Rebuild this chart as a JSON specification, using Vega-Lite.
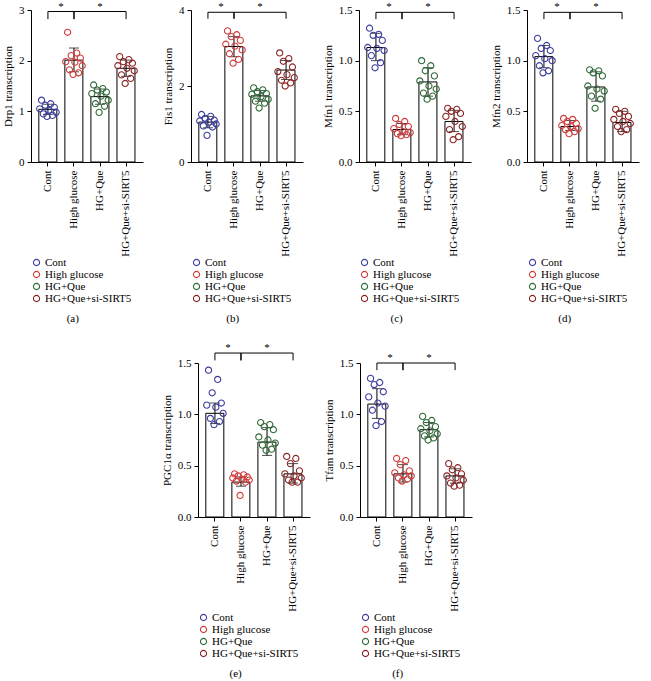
{
"$schema": "https://vega.github.io/schema/vega-lite/v6.json",
"background": "white",
"padding": {"left": 2, "top": 0, "right": 2, "bottom": 1},
"datasets": {
"sum": [
{"p":"a","g":"Cont","m":1.04,"lo":0.94,"hi":1.14},
{"p":"a","g":"High glucose","m":2.01,"lo":1.78,"hi":2.25},
{"p":"a","g":"HG+Que","m":1.29,"lo":1.14,"hi":1.44},
{"p":"a","g":"HG+Que+si-SIRT5","m":1.85,"lo":1.69,"hi":2.01},
{"p":"b","g":"Cont","m":1.05,"lo":0.9,"hi":1.2},
{"p":"b","g":"High glucose","m":3.04,"lo":2.77,"hi":3.3},
{"p":"b","g":"HG+Que","m":1.74,"lo":1.6,"hi":1.88},
{"p":"b","g":"HG+Que+si-SIRT5","m":2.42,"lo":2.17,"hi":2.67},
{"p":"c","g":"Cont","m":1.13,"lo":1.0,"hi":1.27},
{"p":"c","g":"High glucose","m":0.32,"lo":0.27,"hi":0.38},
{"p":"c","g":"HG+Que","m":0.79,"lo":0.65,"hi":0.93},
{"p":"c","g":"HG+Que+si-SIRT5","m":0.4,"lo":0.3,"hi":0.51},
{"p":"d","g":"Cont","m":1.04,"lo":0.93,"hi":1.15},
{"p":"d","g":"High glucose","m":0.35,"lo":0.31,"hi":0.41},
{"p":"d","g":"HG+Que","m":0.74,"lo":0.6,"hi":0.89},
{"p":"d","g":"HG+Que+si-SIRT5","m":0.39,"lo":0.3,"hi":0.5},
{"p":"e","g":"Cont","m":1.01,"lo":0.91,"hi":1.11},
{"p":"e","g":"High glucose","m":0.34,"lo":0.3,"hi":0.39},
{"p":"e","g":"HG+Que","m":0.73,"lo":0.6,"hi":0.87},
{"p":"e","g":"HG+Que+si-SIRT5","m":0.42,"lo":0.33,"hi":0.52},
{"p":"f","g":"Cont","m":1.1,"lo":0.96,"hi":1.25},
{"p":"f","g":"High glucose","m":0.42,"lo":0.34,"hi":0.51},
{"p":"f","g":"HG+Que","m":0.85,"lo":0.78,"hi":0.92},
{"p":"f","g":"HG+Que+si-SIRT5","m":0.4,"lo":0.33,"hi":0.47}
],
"br": [
{"p":"a","k":1,"a":"Cont","b":"High glucose","y":2.97,"yl":2.82},
{"p":"a","k":2,"a":"High glucose","b":"HG+Que+si-SIRT5","y":2.97,"yl":2.82},
{"p":"b","k":1,"a":"Cont","b":"High glucose","y":3.94,"yl":3.77},
{"p":"b","k":2,"a":"High glucose","b":"HG+Que+si-SIRT5","y":3.94,"yl":3.77},
{"p":"c","k":1,"a":"Cont","b":"High glucose","y":1.477,"yl":1.41},
{"p":"c","k":2,"a":"High glucose","b":"HG+Que+si-SIRT5","y":1.477,"yl":1.41},
{"p":"d","k":1,"a":"Cont","b":"High glucose","y":1.477,"yl":1.41},
{"p":"d","k":2,"a":"High glucose","b":"HG+Que+si-SIRT5","y":1.477,"yl":1.41},
{"p":"e","k":1,"a":"Cont","b":"High glucose","y":1.597,"yl":1.525},
{"p":"e","k":2,"a":"High glucose","b":"HG+Que+si-SIRT5","y":1.597,"yl":1.525},
{"p":"f","k":1,"a":"Cont","b":"High glucose","y":1.5,"yl":1.43},
{"p":"f","k":2,"a":"High glucose","b":"HG+Que+si-SIRT5","y":1.5,"yl":1.43}
],
"pts": [
{"p":"a","g":"Cont","r":1,"v":1.05},{"p":"a","g":"Cont","r":2,"v":1.22},{"p":"a","g":"Cont","r":3,"v":0.95},{"p":"a","g":"Cont","r":4,"v":1.12},{"p":"a","g":"Cont","r":5,"v":0.9},{"p":"a","g":"Cont","r":6,"v":1.02},{"p":"a","g":"Cont","r":7,"v":1.15},{"p":"a","g":"Cont","r":8,"v":0.92},{"p":"a","g":"Cont","r":9,"v":1.08},{"p":"a","g":"Cont","r":10,"v":0.98},
{"p":"a","g":"High glucose","r":1,"v":1.98},{"p":"a","g":"High glucose","r":2,"v":2.56},{"p":"a","g":"High glucose","r":3,"v":1.82},{"p":"a","g":"High glucose","r":4,"v":2.1},{"p":"a","g":"High glucose","r":5,"v":1.73},{"p":"a","g":"High glucose","r":6,"v":1.97},{"p":"a","g":"High glucose","r":7,"v":2.15},{"p":"a","g":"High glucose","r":8,"v":1.76},{"p":"a","g":"High glucose","r":9,"v":2.05},{"p":"a","g":"High glucose","r":10,"v":1.9},
{"p":"a","g":"HG+Que","r":1,"v":1.35},{"p":"a","g":"HG+Que","r":2,"v":1.52},{"p":"a","g":"HG+Que","r":3,"v":1.15},{"p":"a","g":"HG+Que","r":4,"v":1.42},{"p":"a","g":"HG+Que","r":5,"v":0.98},{"p":"a","g":"HG+Que","r":6,"v":1.3},{"p":"a","g":"HG+Que","r":7,"v":1.45},{"p":"a","g":"HG+Que","r":8,"v":1.1},{"p":"a","g":"HG+Que","r":9,"v":1.38},{"p":"a","g":"HG+Que","r":10,"v":1.22},
{"p":"a","g":"HG+Que+si-SIRT5","r":1,"v":1.9},{"p":"a","g":"HG+Que+si-SIRT5","r":2,"v":2.08},{"p":"a","g":"HG+Que+si-SIRT5","r":3,"v":1.72},{"p":"a","g":"HG+Que+si-SIRT5","r":4,"v":1.98},{"p":"a","g":"HG+Que+si-SIRT5","r":5,"v":1.55},{"p":"a","g":"HG+Que+si-SIRT5","r":6,"v":1.85},{"p":"a","g":"HG+Que+si-SIRT5","r":7,"v":2.02},{"p":"a","g":"HG+Que+si-SIRT5","r":8,"v":1.65},{"p":"a","g":"HG+Que+si-SIRT5","r":9,"v":1.95},{"p":"a","g":"HG+Que+si-SIRT5","r":10,"v":1.8},
{"p":"b","g":"Cont","r":1,"v":1.08},{"p":"b","g":"Cont","r":2,"v":1.25},{"p":"b","g":"Cont","r":3,"v":0.95},{"p":"b","g":"Cont","r":4,"v":1.15},{"p":"b","g":"Cont","r":5,"v":0.7},{"p":"b","g":"Cont","r":6,"v":1.05},{"p":"b","g":"Cont","r":7,"v":1.2},{"p":"b","g":"Cont","r":8,"v":0.92},{"p":"b","g":"Cont","r":9,"v":1.1},{"p":"b","g":"Cont","r":10,"v":1.0},
{"p":"b","g":"High glucose","r":1,"v":3.1},{"p":"b","g":"High glucose","r":2,"v":3.45},{"p":"b","g":"High glucose","r":3,"v":2.85},{"p":"b","g":"High glucose","r":4,"v":3.3},{"p":"b","g":"High glucose","r":5,"v":2.6},{"p":"b","g":"High glucose","r":6,"v":3.05},{"p":"b","g":"High glucose","r":7,"v":3.35},{"p":"b","g":"High glucose","r":8,"v":2.7},{"p":"b","g":"High glucose","r":9,"v":3.2},{"p":"b","g":"High glucose","r":10,"v":2.95},
{"p":"b","g":"HG+Que","r":1,"v":1.78},{"p":"b","g":"HG+Que","r":2,"v":1.95},{"p":"b","g":"HG+Que","r":3,"v":1.6},{"p":"b","g":"HG+Que","r":4,"v":1.85},{"p":"b","g":"HG+Que","r":5,"v":1.42},{"p":"b","g":"HG+Que","r":6,"v":1.72},{"p":"b","g":"HG+Que","r":7,"v":1.9},{"p":"b","g":"HG+Que","r":8,"v":1.55},{"p":"b","g":"HG+Que","r":9,"v":1.8},{"p":"b","g":"HG+Que","r":10,"v":1.65},
{"p":"b","g":"HG+Que+si-SIRT5","r":1,"v":2.38},{"p":"b","g":"HG+Que+si-SIRT5","r":2,"v":2.87},{"p":"b","g":"HG+Que+si-SIRT5","r":3,"v":2.15},{"p":"b","g":"HG+Que+si-SIRT5","r":4,"v":2.65},{"p":"b","g":"HG+Que+si-SIRT5","r":5,"v":2.0},{"p":"b","g":"HG+Que+si-SIRT5","r":6,"v":2.3},{"p":"b","g":"HG+Que+si-SIRT5","r":7,"v":2.72},{"p":"b","g":"HG+Que+si-SIRT5","r":8,"v":2.08},{"p":"b","g":"HG+Que+si-SIRT5","r":9,"v":2.5},{"p":"b","g":"HG+Que+si-SIRT5","r":10,"v":2.22},
{"p":"c","g":"Cont","r":1,"v":1.13},{"p":"c","g":"Cont","r":2,"v":1.32},{"p":"c","g":"Cont","r":3,"v":1.05},{"p":"c","g":"Cont","r":4,"v":1.25},{"p":"c","g":"Cont","r":5,"v":0.93},{"p":"c","g":"Cont","r":6,"v":1.12},{"p":"c","g":"Cont","r":7,"v":1.26},{"p":"c","g":"Cont","r":8,"v":0.98},{"p":"c","g":"Cont","r":9,"v":1.2},{"p":"c","g":"Cont","r":10,"v":1.1},
{"p":"c","g":"High glucose","r":1,"v":0.33},{"p":"c","g":"High glucose","r":2,"v":0.43},{"p":"c","g":"High glucose","r":3,"v":0.28},{"p":"c","g":"High glucose","r":4,"v":0.37},{"p":"c","g":"High glucose","r":5,"v":0.26},{"p":"c","g":"High glucose","r":6,"v":0.3},{"p":"c","g":"High glucose","r":7,"v":0.4},{"p":"c","g":"High glucose","r":8,"v":0.27},{"p":"c","g":"High glucose","r":9,"v":0.35},{"p":"c","g":"High glucose","r":10,"v":0.29},
{"p":"c","g":"HG+Que","r":1,"v":0.8},{"p":"c","g":"HG+Que","r":2,"v":1.0},{"p":"c","g":"HG+Que","r":3,"v":0.68},{"p":"c","g":"HG+Que","r":4,"v":0.9},{"p":"c","g":"HG+Que","r":5,"v":0.62},{"p":"c","g":"HG+Que","r":6,"v":0.75},{"p":"c","g":"HG+Que","r":7,"v":0.95},{"p":"c","g":"HG+Que","r":8,"v":0.65},{"p":"c","g":"HG+Que","r":9,"v":0.85},{"p":"c","g":"HG+Que","r":10,"v":0.72},
{"p":"c","g":"HG+Que+si-SIRT5","r":1,"v":0.45},{"p":"c","g":"HG+Que+si-SIRT5","r":2,"v":0.53},{"p":"c","g":"HG+Que+si-SIRT5","r":3,"v":0.32},{"p":"c","g":"HG+Que+si-SIRT5","r":4,"v":0.5},{"p":"c","g":"HG+Que+si-SIRT5","r":5,"v":0.22},{"p":"c","g":"HG+Que+si-SIRT5","r":6,"v":0.4},{"p":"c","g":"HG+Que+si-SIRT5","r":7,"v":0.52},{"p":"c","g":"HG+Que+si-SIRT5","r":8,"v":0.25},{"p":"c","g":"HG+Que+si-SIRT5","r":9,"v":0.48},{"p":"c","g":"HG+Que+si-SIRT5","r":10,"v":0.35},
{"p":"d","g":"Cont","r":1,"v":1.05},{"p":"d","g":"Cont","r":2,"v":1.22},{"p":"d","g":"Cont","r":3,"v":0.95},{"p":"d","g":"Cont","r":4,"v":1.12},{"p":"d","g":"Cont","r":5,"v":0.88},{"p":"d","g":"Cont","r":6,"v":1.02},{"p":"d","g":"Cont","r":7,"v":1.15},{"p":"d","g":"Cont","r":8,"v":0.9},{"p":"d","g":"Cont","r":9,"v":1.1},{"p":"d","g":"Cont","r":10,"v":1.0},
{"p":"d","g":"High glucose","r":1,"v":0.36},{"p":"d","g":"High glucose","r":2,"v":0.43},{"p":"d","g":"High glucose","r":3,"v":0.32},{"p":"d","g":"High glucose","r":4,"v":0.4},{"p":"d","g":"High glucose","r":5,"v":0.28},{"p":"d","g":"High glucose","r":6,"v":0.35},{"p":"d","g":"High glucose","r":7,"v":0.42},{"p":"d","g":"High glucose","r":8,"v":0.3},{"p":"d","g":"High glucose","r":9,"v":0.38},{"p":"d","g":"High glucose","r":10,"v":0.33},
{"p":"d","g":"HG+Que","r":1,"v":0.75},{"p":"d","g":"HG+Que","r":2,"v":0.91},{"p":"d","g":"HG+Que","r":3,"v":0.65},{"p":"d","g":"HG+Que","r":4,"v":0.88},{"p":"d","g":"HG+Que","r":5,"v":0.53},{"p":"d","g":"HG+Que","r":6,"v":0.72},{"p":"d","g":"HG+Que","r":7,"v":0.9},{"p":"d","g":"HG+Que","r":8,"v":0.62},{"p":"d","g":"HG+Que","r":9,"v":0.85},{"p":"d","g":"HG+Que","r":10,"v":0.7},
{"p":"d","g":"HG+Que+si-SIRT5","r":1,"v":0.42},{"p":"d","g":"HG+Que+si-SIRT5","r":2,"v":0.52},{"p":"d","g":"HG+Que+si-SIRT5","r":3,"v":0.35},{"p":"d","g":"HG+Que+si-SIRT5","r":4,"v":0.48},{"p":"d","g":"HG+Que+si-SIRT5","r":5,"v":0.3},{"p":"d","g":"HG+Que+si-SIRT5","r":6,"v":0.4},{"p":"d","g":"HG+Que+si-SIRT5","r":7,"v":0.5},{"p":"d","g":"HG+Que+si-SIRT5","r":8,"v":0.32},{"p":"d","g":"HG+Que+si-SIRT5","r":9,"v":0.45},{"p":"d","g":"HG+Que+si-SIRT5","r":10,"v":0.38},
{"p":"e","g":"Cont","r":1,"v":1.09},{"p":"e","g":"Cont","r":2,"v":1.43},{"p":"e","g":"Cont","r":3,"v":0.96},{"p":"e","g":"Cont","r":4,"v":1.21},{"p":"e","g":"Cont","r":5,"v":0.9},{"p":"e","g":"Cont","r":6,"v":1.07},{"p":"e","g":"Cont","r":7,"v":1.34},{"p":"e","g":"Cont","r":8,"v":0.93},{"p":"e","g":"Cont","r":9,"v":1.11},{"p":"e","g":"Cont","r":10,"v":1.01},
{"p":"e","g":"High glucose","r":1,"v":0.38},{"p":"e","g":"High glucose","r":2,"v":0.42},{"p":"e","g":"High glucose","r":3,"v":0.35},{"p":"e","g":"High glucose","r":4,"v":0.4},{"p":"e","g":"High glucose","r":5,"v":0.21},{"p":"e","g":"High glucose","r":6,"v":0.37},{"p":"e","g":"High glucose","r":7,"v":0.41},{"p":"e","g":"High glucose","r":8,"v":0.34},{"p":"e","g":"High glucose","r":9,"v":0.39},{"p":"e","g":"High glucose","r":10,"v":0.36},
{"p":"e","g":"HG+Que","r":1,"v":0.78},{"p":"e","g":"HG+Que","r":2,"v":0.92},{"p":"e","g":"HG+Que","r":3,"v":0.7},{"p":"e","g":"HG+Que","r":4,"v":0.88},{"p":"e","g":"HG+Que","r":5,"v":0.65},{"p":"e","g":"HG+Que","r":6,"v":0.75},{"p":"e","g":"HG+Que","r":7,"v":0.9},{"p":"e","g":"HG+Que","r":8,"v":0.66},{"p":"e","g":"HG+Que","r":9,"v":0.85},{"p":"e","g":"HG+Que","r":10,"v":0.72},
{"p":"e","g":"HG+Que+si-SIRT5","r":1,"v":0.42},{"p":"e","g":"HG+Que+si-SIRT5","r":2,"v":0.59},{"p":"e","g":"HG+Que+si-SIRT5","r":3,"v":0.36},{"p":"e","g":"HG+Que+si-SIRT5","r":4,"v":0.52},{"p":"e","g":"HG+Que+si-SIRT5","r":5,"v":0.34},{"p":"e","g":"HG+Que+si-SIRT5","r":6,"v":0.4},{"p":"e","g":"HG+Que+si-SIRT5","r":7,"v":0.57},{"p":"e","g":"HG+Que+si-SIRT5","r":8,"v":0.34},{"p":"e","g":"HG+Que+si-SIRT5","r":9,"v":0.45},{"p":"e","g":"HG+Que+si-SIRT5","r":10,"v":0.38},
{"p":"f","g":"Cont","r":1,"v":1.17},{"p":"f","g":"Cont","r":2,"v":1.35},{"p":"f","g":"Cont","r":3,"v":1.04},{"p":"f","g":"Cont","r":4,"v":1.29},{"p":"f","g":"Cont","r":5,"v":0.89},{"p":"f","g":"Cont","r":6,"v":1.11},{"p":"f","g":"Cont","r":7,"v":1.31},{"p":"f","g":"Cont","r":8,"v":0.93},{"p":"f","g":"Cont","r":9,"v":1.22},{"p":"f","g":"Cont","r":10,"v":1.08},
{"p":"f","g":"High glucose","r":1,"v":0.43},{"p":"f","g":"High glucose","r":2,"v":0.57},{"p":"f","g":"High glucose","r":3,"v":0.38},{"p":"f","g":"High glucose","r":4,"v":0.51},{"p":"f","g":"High glucose","r":5,"v":0.35},{"p":"f","g":"High glucose","r":6,"v":0.41},{"p":"f","g":"High glucose","r":7,"v":0.55},{"p":"f","g":"High glucose","r":8,"v":0.37},{"p":"f","g":"High glucose","r":9,"v":0.45},{"p":"f","g":"High glucose","r":10,"v":0.4},
{"p":"f","g":"HG+Que","r":1,"v":0.86},{"p":"f","g":"HG+Que","r":2,"v":0.98},{"p":"f","g":"HG+Que","r":3,"v":0.79},{"p":"f","g":"HG+Que","r":4,"v":0.92},{"p":"f","g":"HG+Que","r":5,"v":0.75},{"p":"f","g":"HG+Que","r":6,"v":0.84},{"p":"f","g":"HG+Que","r":7,"v":0.94},{"p":"f","g":"HG+Que","r":8,"v":0.77},{"p":"f","g":"HG+Que","r":9,"v":0.88},{"p":"f","g":"HG+Que","r":10,"v":0.81},
{"p":"f","g":"HG+Que+si-SIRT5","r":1,"v":0.4},{"p":"f","g":"HG+Que+si-SIRT5","r":2,"v":0.52},{"p":"f","g":"HG+Que+si-SIRT5","r":3,"v":0.33},{"p":"f","g":"HG+Que+si-SIRT5","r":4,"v":0.46},{"p":"f","g":"HG+Que+si-SIRT5","r":5,"v":0.3},{"p":"f","g":"HG+Que+si-SIRT5","r":6,"v":0.38},{"p":"f","g":"HG+Que+si-SIRT5","r":7,"v":0.48},{"p":"f","g":"HG+Que+si-SIRT5","r":8,"v":0.31},{"p":"f","g":"HG+Que+si-SIRT5","r":9,"v":0.42},{"p":"f","g":"HG+Que+si-SIRT5","r":10,"v":0.36}
]
},
"resolve": {"scale": {"color": "independent"}},
"spacing": 18,
"center": true,
"vconcat": [
{"hconcat": [
{"width":112,"height":152,"title":"(a)",
"encoding":{"x":{"field":"g","type":"nominal","title":null,"scale":{"domain":["Cont","High glucose","HG+Que","HG+Que+si-SIRT5"],"paddingInner":0.3,"paddingOuter":0.3}}},
"layer":[
{"data":{"name":"sum"},"transform":[{"filter":"datum.p=='a'"}],"mark":{"type":"bar","fill":"white","stroke":"black","strokeWidth":1},"encoding":{"y":{"field":"m","type":"quantitative","title":"Drp1 transcription","scale":{"domain":[0,3],"nice":false},"axis":{"values":[0,1,2,3]}}}},
{"data":{"name":"sum"},"transform":[{"filter":"datum.p=='a'"}],"mark":{"type":"errorbar","color":"black","ticks":{"size":10}},"encoding":{"y":{"field":"lo","type":"quantitative","title":"Drp1 transcription","scale":{"domain":[0,3],"nice":false}},"y2":{"field":"hi"}}},
{"data":{"name":"pts"},"transform":[{"filter":"datum.p=='a'"}],"mark":{"type":"point","shape":"circle","filled":false,"size":38,"strokeWidth":1.1,"opacity":1},"encoding":{"xOffset":{"field":"r","type":"nominal"},"y":{"field":"v","type":"quantitative","title":"Drp1 transcription","scale":{"domain":[0,3],"nice":false}},"color":{"field":"g","type":"nominal","scale":{"domain":["Cont","High glucose","HG+Que","HG+Que+si-SIRT5"],"range":["#3d3d9e","#d23c3c","#2e6b36","#8c2424"]},"legend":{"title":null}}}},
{"data":{"name":"br"},"transform":[{"filter":"datum.p=='a'"}],"mark":{"type":"rule","color":"black"},"encoding":{"x":{"field":"a","type":"nominal","title":null,"scale":{"domain":["Cont","High glucose","HG+Que","HG+Que+si-SIRT5"],"paddingInner":0.3,"paddingOuter":0.3}},"x2":{"field":"b"},"y":{"field":"y","type":"quantitative","title":"Drp1 transcription","scale":{"domain":[0,3],"nice":false}}}},
{"data":{"name":"br"},"transform":[{"filter":"datum.p=='a'"}],"mark":{"type":"rule","color":"black"},"encoding":{"x":{"field":"a","type":"nominal","title":null,"scale":{"domain":["Cont","High glucose","HG+Que","HG+Que+si-SIRT5"],"paddingInner":0.3,"paddingOuter":0.3}},"y":{"field":"y","type":"quantitative","title":"Drp1 transcription","scale":{"domain":[0,3],"nice":false}},"y2":{"field":"yl"}}},
{"data":{"name":"br"},"transform":[{"filter":"datum.p=='a'"}],"mark":{"type":"rule","color":"black"},"encoding":{"x":{"field":"b","type":"nominal","title":null,"scale":{"domain":["Cont","High glucose","HG+Que","HG+Que+si-SIRT5"],"paddingInner":0.3,"paddingOuter":0.3}},"y":{"field":"y","type":"quantitative","title":"Drp1 transcription","scale":{"domain":[0,3],"nice":false}},"y2":{"field":"yl"}}},
{"data":{"name":"br"},"transform":[{"filter":"datum.p=='a' && datum.k==1"}],"mark":{"type":"text","text":"*","dx":-13,"baseline":"bottom","color":"black"},"encoding":{"x":{"field":"b","type":"nominal","title":null,"scale":{"domain":["Cont","High glucose","HG+Que","HG+Que+si-SIRT5"],"paddingInner":0.3,"paddingOuter":0.3}},"y":{"field":"y","type":"quantitative","title":"Drp1 transcription","scale":{"domain":[0,3],"nice":false}}}},
{"data":{"name":"br"},"transform":[{"filter":"datum.p=='a' && datum.k==2"}],"mark":{"type":"text","text":"*","dx":-26,"baseline":"bottom","color":"black"},"encoding":{"x":{"field":"b","type":"nominal","title":null,"scale":{"domain":["Cont","High glucose","HG+Que","HG+Que+si-SIRT5"],"paddingInner":0.3,"paddingOuter":0.3}},"y":{"field":"y","type":"quantitative","title":"Drp1 transcription","scale":{"domain":[0,3],"nice":false}}}}
]},
{"width":112,"height":152,"title":"(b)",
"encoding":{"x":{"field":"g","type":"nominal","title":null,"scale":{"domain":["Cont","High glucose","HG+Que","HG+Que+si-SIRT5"],"paddingInner":0.3,"paddingOuter":0.3}}},
"layer":[
{"data":{"name":"sum"},"transform":[{"filter":"datum.p=='b'"}],"mark":{"type":"bar","fill":"white","stroke":"black","strokeWidth":1},"encoding":{"y":{"field":"m","type":"quantitative","title":"Fis1 transcription","scale":{"domain":[0,4],"nice":false},"axis":{"values":[0,1,2,3,4]}}}},
{"data":{"name":"sum"},"transform":[{"filter":"datum.p=='b'"}],"mark":{"type":"errorbar","color":"black","ticks":{"size":10}},"encoding":{"y":{"field":"lo","type":"quantitative","title":"Fis1 transcription","scale":{"domain":[0,4],"nice":false}},"y2":{"field":"hi"}}},
{"data":{"name":"pts"},"transform":[{"filter":"datum.p=='b'"}],"mark":{"type":"point","shape":"circle","filled":false,"size":38,"strokeWidth":1.1,"opacity":1},"encoding":{"xOffset":{"field":"r","type":"nominal"},"y":{"field":"v","type":"quantitative","title":"Fis1 transcription","scale":{"domain":[0,4],"nice":false}},"color":{"field":"g","type":"nominal","scale":{"domain":["Cont","High glucose","HG+Que","HG+Que+si-SIRT5"],"range":["#3d3d9e","#d23c3c","#2e6b36","#8c2424"]},"legend":{"title":null}}}},
{"data":{"name":"br"},"transform":[{"filter":"datum.p=='b'"}],"mark":{"type":"rule","color":"black"},"encoding":{"x":{"field":"a","type":"nominal","title":null,"scale":{"domain":["Cont","High glucose","HG+Que","HG+Que+si-SIRT5"],"paddingInner":0.3,"paddingOuter":0.3}},"x2":{"field":"b"},"y":{"field":"y","type":"quantitative","title":"Fis1 transcription","scale":{"domain":[0,4],"nice":false}}}},
{"data":{"name":"br"},"transform":[{"filter":"datum.p=='b'"}],"mark":{"type":"rule","color":"black"},"encoding":{"x":{"field":"a","type":"nominal","title":null,"scale":{"domain":["Cont","High glucose","HG+Que","HG+Que+si-SIRT5"],"paddingInner":0.3,"paddingOuter":0.3}},"y":{"field":"y","type":"quantitative","title":"Fis1 transcription","scale":{"domain":[0,4],"nice":false}},"y2":{"field":"yl"}}},
{"data":{"name":"br"},"transform":[{"filter":"datum.p=='b'"}],"mark":{"type":"rule","color":"black"},"encoding":{"x":{"field":"b","type":"nominal","title":null,"scale":{"domain":["Cont","High glucose","HG+Que","HG+Que+si-SIRT5"],"paddingInner":0.3,"paddingOuter":0.3}},"y":{"field":"y","type":"quantitative","title":"Fis1 transcription","scale":{"domain":[0,4],"nice":false}},"y2":{"field":"yl"}}},
{"data":{"name":"br"},"transform":[{"filter":"datum.p=='b' && datum.k==1"}],"mark":{"type":"text","text":"*","dx":-13,"baseline":"bottom","color":"black"},"encoding":{"x":{"field":"b","type":"nominal","title":null,"scale":{"domain":["Cont","High glucose","HG+Que","HG+Que+si-SIRT5"],"paddingInner":0.3,"paddingOuter":0.3}},"y":{"field":"y","type":"quantitative","title":"Fis1 transcription","scale":{"domain":[0,4],"nice":false}}}},
{"data":{"name":"br"},"transform":[{"filter":"datum.p=='b' && datum.k==2"}],"mark":{"type":"text","text":"*","dx":-26,"baseline":"bottom","color":"black"},"encoding":{"x":{"field":"b","type":"nominal","title":null,"scale":{"domain":["Cont","High glucose","HG+Que","HG+Que+si-SIRT5"],"paddingInner":0.3,"paddingOuter":0.3}},"y":{"field":"y","type":"quantitative","title":"Fis1 transcription","scale":{"domain":[0,4],"nice":false}}}}
]},
{"width":112,"height":152,"title":"(c)",
"encoding":{"x":{"field":"g","type":"nominal","title":null,"scale":{"domain":["Cont","High glucose","HG+Que","HG+Que+si-SIRT5"],"paddingInner":0.3,"paddingOuter":0.3}}},
"layer":[
{"data":{"name":"sum"},"transform":[{"filter":"datum.p=='c'"}],"mark":{"type":"bar","fill":"white","stroke":"black","strokeWidth":1},"encoding":{"y":{"field":"m","type":"quantitative","title":"Mfn1 transcription","scale":{"domain":[0,1.5],"nice":false},"axis":{"values":[0,0.5,1,1.5],"format":".1f"}}}},
{"data":{"name":"sum"},"transform":[{"filter":"datum.p=='c'"}],"mark":{"type":"errorbar","color":"black","ticks":{"size":10}},"encoding":{"y":{"field":"lo","type":"quantitative","title":"Mfn1 transcription","scale":{"domain":[0,1.5],"nice":false}},"y2":{"field":"hi"}}},
{"data":{"name":"pts"},"transform":[{"filter":"datum.p=='c'"}],"mark":{"type":"point","shape":"circle","filled":false,"size":38,"strokeWidth":1.1,"opacity":1},"encoding":{"xOffset":{"field":"r","type":"nominal"},"y":{"field":"v","type":"quantitative","title":"Mfn1 transcription","scale":{"domain":[0,1.5],"nice":false}},"color":{"field":"g","type":"nominal","scale":{"domain":["Cont","High glucose","HG+Que","HG+Que+si-SIRT5"],"range":["#3d3d9e","#d23c3c","#2e6b36","#8c2424"]},"legend":{"title":null}}}},
{"data":{"name":"br"},"transform":[{"filter":"datum.p=='c'"}],"mark":{"type":"rule","color":"black"},"encoding":{"x":{"field":"a","type":"nominal","title":null,"scale":{"domain":["Cont","High glucose","HG+Que","HG+Que+si-SIRT5"],"paddingInner":0.3,"paddingOuter":0.3}},"x2":{"field":"b"},"y":{"field":"y","type":"quantitative","title":"Mfn1 transcription","scale":{"domain":[0,1.5],"nice":false}}}},
{"data":{"name":"br"},"transform":[{"filter":"datum.p=='c'"}],"mark":{"type":"rule","color":"black"},"encoding":{"x":{"field":"a","type":"nominal","title":null,"scale":{"domain":["Cont","High glucose","HG+Que","HG+Que+si-SIRT5"],"paddingInner":0.3,"paddingOuter":0.3}},"y":{"field":"y","type":"quantitative","title":"Mfn1 transcription","scale":{"domain":[0,1.5],"nice":false}},"y2":{"field":"yl"}}},
{"data":{"name":"br"},"transform":[{"filter":"datum.p=='c'"}],"mark":{"type":"rule","color":"black"},"encoding":{"x":{"field":"b","type":"nominal","title":null,"scale":{"domain":["Cont","High glucose","HG+Que","HG+Que+si-SIRT5"],"paddingInner":0.3,"paddingOuter":0.3}},"y":{"field":"y","type":"quantitative","title":"Mfn1 transcription","scale":{"domain":[0,1.5],"nice":false}},"y2":{"field":"yl"}}},
{"data":{"name":"br"},"transform":[{"filter":"datum.p=='c' && datum.k==1"}],"mark":{"type":"text","text":"*","dx":-13,"baseline":"bottom","color":"black"},"encoding":{"x":{"field":"b","type":"nominal","title":null,"scale":{"domain":["Cont","High glucose","HG+Que","HG+Que+si-SIRT5"],"paddingInner":0.3,"paddingOuter":0.3}},"y":{"field":"y","type":"quantitative","title":"Mfn1 transcription","scale":{"domain":[0,1.5],"nice":false}}}},
{"data":{"name":"br"},"transform":[{"filter":"datum.p=='c' && datum.k==2"}],"mark":{"type":"text","text":"*","dx":-26,"baseline":"bottom","color":"black"},"encoding":{"x":{"field":"b","type":"nominal","title":null,"scale":{"domain":["Cont","High glucose","HG+Que","HG+Que+si-SIRT5"],"paddingInner":0.3,"paddingOuter":0.3}},"y":{"field":"y","type":"quantitative","title":"Mfn1 transcription","scale":{"domain":[0,1.5],"nice":false}}}}
]},
{"width":112,"height":152,"title":"(d)",
"encoding":{"x":{"field":"g","type":"nominal","title":null,"scale":{"domain":["Cont","High glucose","HG+Que","HG+Que+si-SIRT5"],"paddingInner":0.3,"paddingOuter":0.3}}},
"layer":[
{"data":{"name":"sum"},"transform":[{"filter":"datum.p=='d'"}],"mark":{"type":"bar","fill":"white","stroke":"black","strokeWidth":1},"encoding":{"y":{"field":"m","type":"quantitative","title":"Mfn2 transcription","scale":{"domain":[0,1.5],"nice":false},"axis":{"values":[0,0.5,1,1.5],"format":".1f"}}}},
{"data":{"name":"sum"},"transform":[{"filter":"datum.p=='d'"}],"mark":{"type":"errorbar","color":"black","ticks":{"size":10}},"encoding":{"y":{"field":"lo","type":"quantitative","title":"Mfn2 transcription","scale":{"domain":[0,1.5],"nice":false}},"y2":{"field":"hi"}}},
{"data":{"name":"pts"},"transform":[{"filter":"datum.p=='d'"}],"mark":{"type":"point","shape":"circle","filled":false,"size":38,"strokeWidth":1.1,"opacity":1},"encoding":{"xOffset":{"field":"r","type":"nominal"},"y":{"field":"v","type":"quantitative","title":"Mfn2 transcription","scale":{"domain":[0,1.5],"nice":false}},"color":{"field":"g","type":"nominal","scale":{"domain":["Cont","High glucose","HG+Que","HG+Que+si-SIRT5"],"range":["#3d3d9e","#d23c3c","#2e6b36","#8c2424"]},"legend":{"title":null}}}},
{"data":{"name":"br"},"transform":[{"filter":"datum.p=='d'"}],"mark":{"type":"rule","color":"black"},"encoding":{"x":{"field":"a","type":"nominal","title":null,"scale":{"domain":["Cont","High glucose","HG+Que","HG+Que+si-SIRT5"],"paddingInner":0.3,"paddingOuter":0.3}},"x2":{"field":"b"},"y":{"field":"y","type":"quantitative","title":"Mfn2 transcription","scale":{"domain":[0,1.5],"nice":false}}}},
{"data":{"name":"br"},"transform":[{"filter":"datum.p=='d'"}],"mark":{"type":"rule","color":"black"},"encoding":{"x":{"field":"a","type":"nominal","title":null,"scale":{"domain":["Cont","High glucose","HG+Que","HG+Que+si-SIRT5"],"paddingInner":0.3,"paddingOuter":0.3}},"y":{"field":"y","type":"quantitative","title":"Mfn2 transcription","scale":{"domain":[0,1.5],"nice":false}},"y2":{"field":"yl"}}},
{"data":{"name":"br"},"transform":[{"filter":"datum.p=='d'"}],"mark":{"type":"rule","color":"black"},"encoding":{"x":{"field":"b","type":"nominal","title":null,"scale":{"domain":["Cont","High glucose","HG+Que","HG+Que+si-SIRT5"],"paddingInner":0.3,"paddingOuter":0.3}},"y":{"field":"y","type":"quantitative","title":"Mfn2 transcription","scale":{"domain":[0,1.5],"nice":false}},"y2":{"field":"yl"}}},
{"data":{"name":"br"},"transform":[{"filter":"datum.p=='d' && datum.k==1"}],"mark":{"type":"text","text":"*","dx":-13,"baseline":"bottom","color":"black"},"encoding":{"x":{"field":"b","type":"nominal","title":null,"scale":{"domain":["Cont","High glucose","HG+Que","HG+Que+si-SIRT5"],"paddingInner":0.3,"paddingOuter":0.3}},"y":{"field":"y","type":"quantitative","title":"Mfn2 transcription","scale":{"domain":[0,1.5],"nice":false}}}},
{"data":{"name":"br"},"transform":[{"filter":"datum.p=='d' && datum.k==2"}],"mark":{"type":"text","text":"*","dx":-26,"baseline":"bottom","color":"black"},"encoding":{"x":{"field":"b","type":"nominal","title":null,"scale":{"domain":["Cont","High glucose","HG+Que","HG+Que+si-SIRT5"],"paddingInner":0.3,"paddingOuter":0.3}},"y":{"field":"y","type":"quantitative","title":"Mfn2 transcription","scale":{"domain":[0,1.5],"nice":false}}}}
]}
], "spacing": 19, "resolve": {"scale": {"color": "independent"}}},
{"hconcat": [
{"width":112,"height":154,"title":"(e)",
"encoding":{"x":{"field":"g","type":"nominal","title":null,"scale":{"domain":["Cont","High glucose","HG+Que","HG+Que+si-SIRT5"],"paddingInner":0.3,"paddingOuter":0.3}}},
"layer":[
{"data":{"name":"sum"},"transform":[{"filter":"datum.p=='e'"}],"mark":{"type":"bar","fill":"white","stroke":"black","strokeWidth":1},"encoding":{"y":{"field":"m","type":"quantitative","title":"PGC1α transcription","scale":{"domain":[0,1.5],"nice":false},"axis":{"values":[0,0.5,1,1.5],"format":".1f"}}}},
{"data":{"name":"sum"},"transform":[{"filter":"datum.p=='e'"}],"mark":{"type":"errorbar","color":"black","ticks":{"size":10}},"encoding":{"y":{"field":"lo","type":"quantitative","title":"PGC1α transcription","scale":{"domain":[0,1.5],"nice":false}},"y2":{"field":"hi"}}},
{"data":{"name":"pts"},"transform":[{"filter":"datum.p=='e'"}],"mark":{"type":"point","shape":"circle","filled":false,"size":38,"strokeWidth":1.1,"opacity":1},"encoding":{"xOffset":{"field":"r","type":"nominal"},"y":{"field":"v","type":"quantitative","title":"PGC1α transcription","scale":{"domain":[0,1.5],"nice":false}},"color":{"field":"g","type":"nominal","scale":{"domain":["Cont","High glucose","HG+Que","HG+Que+si-SIRT5"],"range":["#3d3d9e","#d23c3c","#2e6b36","#8c2424"]},"legend":{"title":null}}}},
{"data":{"name":"br"},"transform":[{"filter":"datum.p=='e'"}],"mark":{"type":"rule","color":"black"},"encoding":{"x":{"field":"a","type":"nominal","title":null,"scale":{"domain":["Cont","High glucose","HG+Que","HG+Que+si-SIRT5"],"paddingInner":0.3,"paddingOuter":0.3}},"x2":{"field":"b"},"y":{"field":"y","type":"quantitative","title":"PGC1α transcription","scale":{"domain":[0,1.5],"nice":false}}}},
{"data":{"name":"br"},"transform":[{"filter":"datum.p=='e'"}],"mark":{"type":"rule","color":"black"},"encoding":{"x":{"field":"a","type":"nominal","title":null,"scale":{"domain":["Cont","High glucose","HG+Que","HG+Que+si-SIRT5"],"paddingInner":0.3,"paddingOuter":0.3}},"y":{"field":"y","type":"quantitative","title":"PGC1α transcription","scale":{"domain":[0,1.5],"nice":false}},"y2":{"field":"yl"}}},
{"data":{"name":"br"},"transform":[{"filter":"datum.p=='e'"}],"mark":{"type":"rule","color":"black"},"encoding":{"x":{"field":"b","type":"nominal","title":null,"scale":{"domain":["Cont","High glucose","HG+Que","HG+Que+si-SIRT5"],"paddingInner":0.3,"paddingOuter":0.3}},"y":{"field":"y","type":"quantitative","title":"PGC1α transcription","scale":{"domain":[0,1.5],"nice":false}},"y2":{"field":"yl"}}},
{"data":{"name":"br"},"transform":[{"filter":"datum.p=='e' && datum.k==1"}],"mark":{"type":"text","text":"*","dx":-13,"baseline":"bottom","color":"black"},"encoding":{"x":{"field":"b","type":"nominal","title":null,"scale":{"domain":["Cont","High glucose","HG+Que","HG+Que+si-SIRT5"],"paddingInner":0.3,"paddingOuter":0.3}},"y":{"field":"y","type":"quantitative","title":"PGC1α transcription","scale":{"domain":[0,1.5],"nice":false}}}},
{"data":{"name":"br"},"transform":[{"filter":"datum.p=='e' && datum.k==2"}],"mark":{"type":"text","text":"*","dx":-26,"baseline":"bottom","color":"black"},"encoding":{"x":{"field":"b","type":"nominal","title":null,"scale":{"domain":["Cont","High glucose","HG+Que","HG+Que+si-SIRT5"],"paddingInner":0.3,"paddingOuter":0.3}},"y":{"field":"y","type":"quantitative","title":"PGC1α transcription","scale":{"domain":[0,1.5],"nice":false}}}}
]},
{"width":112,"height":154,"title":"(f)",
"encoding":{"x":{"field":"g","type":"nominal","title":null,"scale":{"domain":["Cont","High glucose","HG+Que","HG+Que+si-SIRT5"],"paddingInner":0.3,"paddingOuter":0.3}}},
"layer":[
{"data":{"name":"sum"},"transform":[{"filter":"datum.p=='f'"}],"mark":{"type":"bar","fill":"white","stroke":"black","strokeWidth":1},"encoding":{"y":{"field":"m","type":"quantitative","title":"Tfam transcription","scale":{"domain":[0,1.5],"nice":false},"axis":{"values":[0,0.5,1,1.5],"format":".1f"}}}},
{"data":{"name":"sum"},"transform":[{"filter":"datum.p=='f'"}],"mark":{"type":"errorbar","color":"black","ticks":{"size":10}},"encoding":{"y":{"field":"lo","type":"quantitative","title":"Tfam transcription","scale":{"domain":[0,1.5],"nice":false}},"y2":{"field":"hi"}}},
{"data":{"name":"pts"},"transform":[{"filter":"datum.p=='f'"}],"mark":{"type":"point","shape":"circle","filled":false,"size":38,"strokeWidth":1.1,"opacity":1},"encoding":{"xOffset":{"field":"r","type":"nominal"},"y":{"field":"v","type":"quantitative","title":"Tfam transcription","scale":{"domain":[0,1.5],"nice":false}},"color":{"field":"g","type":"nominal","scale":{"domain":["Cont","High glucose","HG+Que","HG+Que+si-SIRT5"],"range":["#3d3d9e","#d23c3c","#2e6b36","#8c2424"]},"legend":{"title":null}}}},
{"data":{"name":"br"},"transform":[{"filter":"datum.p=='f'"}],"mark":{"type":"rule","color":"black"},"encoding":{"x":{"field":"a","type":"nominal","title":null,"scale":{"domain":["Cont","High glucose","HG+Que","HG+Que+si-SIRT5"],"paddingInner":0.3,"paddingOuter":0.3}},"x2":{"field":"b"},"y":{"field":"y","type":"quantitative","title":"Tfam transcription","scale":{"domain":[0,1.5],"nice":false}}}},
{"data":{"name":"br"},"transform":[{"filter":"datum.p=='f'"}],"mark":{"type":"rule","color":"black"},"encoding":{"x":{"field":"a","type":"nominal","title":null,"scale":{"domain":["Cont","High glucose","HG+Que","HG+Que+si-SIRT5"],"paddingInner":0.3,"paddingOuter":0.3}},"y":{"field":"y","type":"quantitative","title":"Tfam transcription","scale":{"domain":[0,1.5],"nice":false}},"y2":{"field":"yl"}}},
{"data":{"name":"br"},"transform":[{"filter":"datum.p=='f'"}],"mark":{"type":"rule","color":"black"},"encoding":{"x":{"field":"b","type":"nominal","title":null,"scale":{"domain":["Cont","High glucose","HG+Que","HG+Que+si-SIRT5"],"paddingInner":0.3,"paddingOuter":0.3}},"y":{"field":"y","type":"quantitative","title":"Tfam transcription","scale":{"domain":[0,1.5],"nice":false}},"y2":{"field":"yl"}}},
{"data":{"name":"br"},"transform":[{"filter":"datum.p=='f' && datum.k==1"}],"mark":{"type":"text","text":"*","dx":-13,"baseline":"bottom","color":"black"},"encoding":{"x":{"field":"b","type":"nominal","title":null,"scale":{"domain":["Cont","High glucose","HG+Que","HG+Que+si-SIRT5"],"paddingInner":0.3,"paddingOuter":0.3}},"y":{"field":"y","type":"quantitative","title":"Tfam transcription","scale":{"domain":[0,1.5],"nice":false}}}},
{"data":{"name":"br"},"transform":[{"filter":"datum.p=='f' && datum.k==2"}],"mark":{"type":"text","text":"*","dx":-26,"baseline":"bottom","color":"black"},"encoding":{"x":{"field":"b","type":"nominal","title":null,"scale":{"domain":["Cont","High glucose","HG+Que","HG+Que+si-SIRT5"],"paddingInner":0.3,"paddingOuter":0.3}},"y":{"field":"y","type":"quantitative","title":"Tfam transcription","scale":{"domain":[0,1.5],"nice":false}}}}
]}
], "spacing": 13, "resolve": {"scale": {"color": "independent"}}}
],
"config": {
"view": {"stroke": null},
"font": "Liberation Serif",
"axis": {"labelFont": "Liberation Serif", "titleFont": "Liberation Serif", "labelFontSize": 11, "titleFontSize": 11, "titleFontWeight": "normal", "domainColor": "black", "tickColor": "black", "labelColor": "black", "titleColor": "black", "grid": false, "tickSize": 4, "labelPadding": 3, "titlePadding": 5},
"axisX": {"labelAngle": -90, "labelPadding": 4},
"legend": {"orient": "bottom", "direction": "vertical", "labelFont": "Liberation Serif", "labelFontSize": 11, "labelColor": "black", "symbolSize": 38, "symbolStrokeWidth": 1.1, "rowPadding": 0, "padding": 0, "offset": 0, "labelOffset": 3},
"title": {"font": "Liberation Serif", "fontSize": 11, "fontWeight": "normal", "orient": "bottom", "anchor": "middle", "frame": "bounds", "color": "black", "offset": 9},
"text": {"font": "Liberation Serif", "fontSize": 11, "color": "black"}
}
}
